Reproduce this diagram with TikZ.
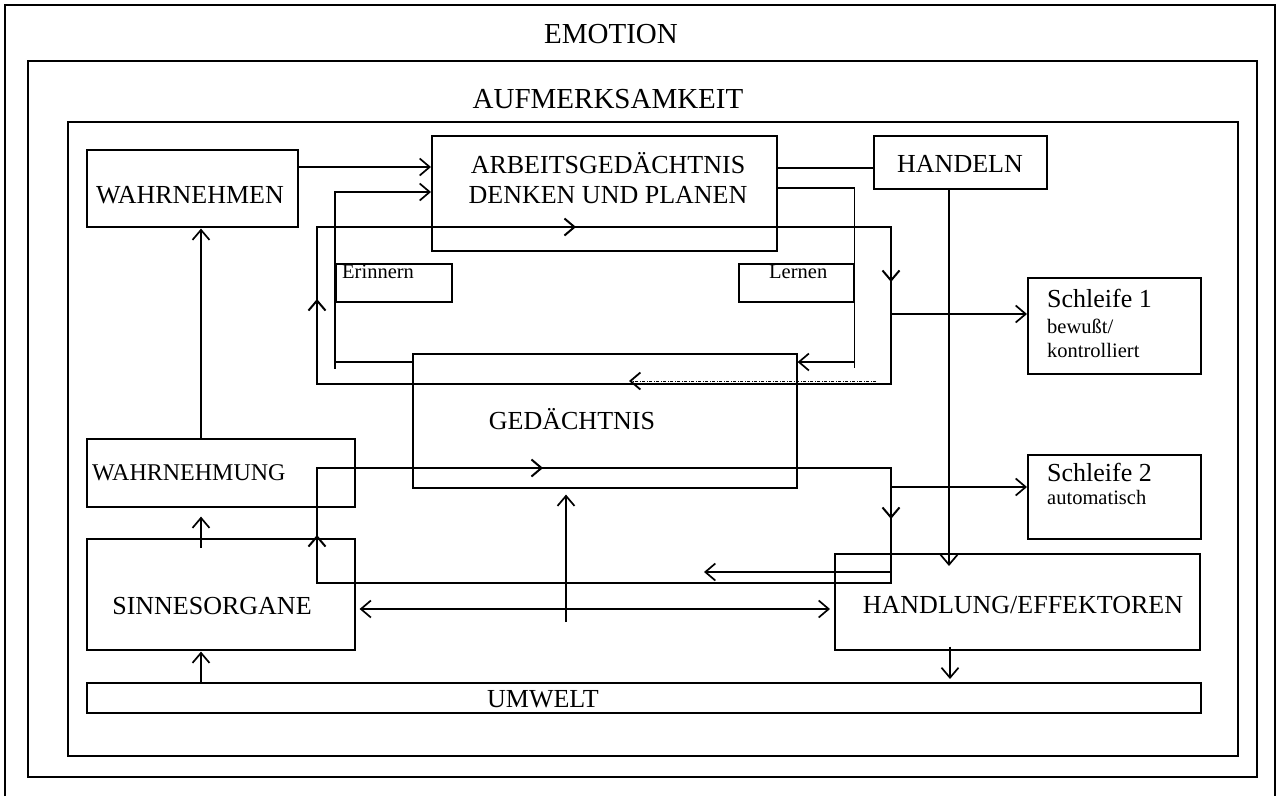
\documentclass[tikz,border=0pt]{standalone}
\usepackage{fontspec}
\setmainfont{Liberation Serif}
\usetikzlibrary{arrows.meta,calc}
\begin{document}
\begin{tikzpicture}[x=1pt,y=-1pt,
  frame/.style={line width=1.8pt},
  box/.style={draw,line width=1.6pt,inner sep=0pt,anchor=north west},
  sbox/.style={box,line width=2.4pt},
  big/.style={inner sep=0pt,anchor=base,font=\fontsize{26}{30}\selectfont},
  head/.style={inner sep=0pt,anchor=base,font=\fontsize{29}{33}\selectfont},
  small/.style={inner sep=0pt,anchor=base west,font=\fontsize{20.5}{24}\selectfont},
  line/.style={line width=1.7pt},
  arr/.style={line width=1.7pt,-{Straight Barb[length=10pt,width=17pt]}},
  darr/.style={line width=1.7pt,{Straight Barb[length=10pt,width=17pt]}-{Straight Barb[length=10pt,width=17pt]}},
  loopline/.style={line width=2.6pt},
  looparr/.style={line width=2pt,-{Straight Barb[length=10pt,width=17pt]}},
  dotarr/.style={line width=1pt,dash pattern=on 3pt off 1.5pt on 1pt off 1.5pt,-{Straight Barb[length=10pt,width=17pt,line width=1.8pt]}}
]
\useasboundingbox (0,0) rectangle (1280,796);
% frames
\draw[frame] (5,796) -- (5,5) -- (1275,5) -- (1275,796);
\draw[frame] (28,61) rectangle (1257,777);
\draw[frame] (68,122) rectangle (1238,756);
\node[head] (emotion) at (611,43.5) {EMOTION};
\node[head] (aufm) at (608,108) {AUFMERKSAMKEIT};
% boxes
\node[box,minimum width=211,minimum height=77] (wn) at (86,149) {};
\node[box,minimum width=345,minimum height=115] (ag) at (431,135) {};
\node[box,minimum width=173,minimum height=53] (hd) at (873,135) {};
\node[box,minimum width=116,minimum height=38] (er) at (335,263) {};
\node[box,minimum width=115,minimum height=38] (le) at (738,263) {};
\node[box,minimum width=384,minimum height=134] (gd) at (412,353) {};
\node[box,minimum width=268,minimum height=68] (wg) at (86,438) {};
\node[box,minimum width=268,minimum height=111] (so) at (86,538) {};
\node[box,minimum width=365,minimum height=96] (hl) at (834,553) {};
\node[box,minimum width=1114,minimum height=30] (uw) at (86,682) {};
\node[sbox,minimum width=173,minimum height=96] (s1) at (1027,277) {};
\node[sbox,minimum width=173,minimum height=84] (s2) at (1027,454) {};
% texts
\node[big] (t-wn) at (190,203) {WAHRNEHMEN};
\node[big] (t-ag1) at (608,173) {ARBEITSGEDÄCHTNIS};
\node[big] (t-ag2) at (608,203) {DENKEN UND PLANEN};
\node[big] (t-hd) at (960,172) {HANDELN};
\node[small] (t-er) at (342,278) {Erinnern};
\node[small] (t-le) at (769,278) {Lernen};
\node[big] (t-gd) at (572,429) {GEDÄCHTNIS};
\node[big,anchor=base west,font=\fontsize{24}{28}\selectfont] (t-wg) at (92,480) {WAHRNEHMUNG};
\node[big] (t-so) at (212,614) {SINNESORGANE};
\node[big] (t-hl) at (1023,613) {HANDLUNG/EFFEKTOREN};
\node[big] (t-uw) at (543,707) {UMWELT};
\node[big,anchor=base west] (t-s1) at (1047,307) {Schleife 1};
\node[small] (t-s1a) at (1047,333) {bewußt/};
\node[small] (t-s1b) at (1047,357) {kontrolliert};
\node[big,anchor=base west] (t-s2) at (1047,481) {Schleife 2};
\node[small] (t-s2a) at (1047,504) {automatisch};
% loops
\draw[loopline] (317,227) rectangle (891,384);
\draw[looparr] (317,322) -- (317,299);
\draw[looparr] (556,227) -- (576,227);
\draw[looparr] (891,262) -- (891,282);
\coordinate (l1out) at (891,314);
\draw[loopline] (317,468) rectangle (891,583);
\draw[looparr] (317,555) -- (317,535);
\draw[looparr] (522,468) -- (543,468);
\draw[looparr] (891,498) -- (891,519);
\coordinate (l2out) at (891,487);
\coordinate (l2in) at (891,572);
% connectors
\draw[arr] ($(wn.north east)+(0,18)$) -- ($(ag.north west)+(0,32)$);
\draw[arr] ($(gd.north west)+(0,9)$) -| ($(er.north west)+(0,-71)$) -- ($(ag.north west)+(0,57)$);
\draw[line] ($(er.north west)+(0,99)$) -- ++(0,7);
\draw[line] ($(ag.north east)+(0,53)$) -| ($(le.north east)+(0,105)$);
\draw[arr] ($(le.north east)+(0,99)$) -- ($(gd.north east)+(0,9)$);
\draw[line] ($(ag.north east)+(0,33)$) -- ($(hd.north west)+(0,33)$);
\draw[arr] ($(hd.south west)+(76,0)$) -- ($(hl.north west)+(115,13)$);
\draw[arr] (l1out) -- ($(s1.north west)+(0,37)$);
\draw[dotarr] (876,381) -- (629,381);
\draw[arr] (l2out) -- ($(s2.north west)+(0,33)$);
\draw[arr] (l2in) -- (704,572);
\draw[arr] (566,622) -- ($(gd.south west)+(154,6)$);
\draw[darr] ($(so.north east)+(4,71)$) -- ($(hl.north west)+(-4,56)$);
\draw[arr] ($(so.north west)+(115,10)$) -- ($(wg.south west)+(115,9)$);
\draw[arr] ($(uw.north west)+(115,0)$) -- ($(so.south west)+(115,1)$);
\draw[arr] ($(wg.north west)+(115,0)$) -- ($(wn.south west)+(115,1)$);
\draw[arr] ($(hl.south west)+(116,-4)$) -- ($(uw.north west)+(864,-3)$);
\end{tikzpicture}
\end{document}
